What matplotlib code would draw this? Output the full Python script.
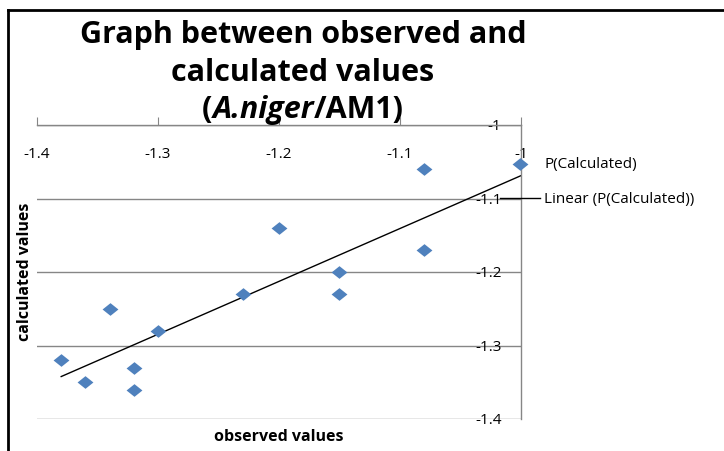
import numpy as np
import matplotlib
matplotlib.use("Agg")
import matplotlib.pyplot as plt
from matplotlib.lines import Line2D
from matplotlib.ticker import FuncFormatter

plt.rcParams["font.family"] = ["Open Sans", "DejaVu Sans"]
plt.rcParams["axes.unicode_minus"] = False

# observed vs calculated values
observed = [-1.38, -1.36, -1.34, -1.32, -1.32, -1.30, -1.23, -1.20, -1.15, -1.15, -1.08, -1.08]
calculated = [-1.32, -1.35, -1.25, -1.33, -1.36, -1.28, -1.23, -1.14, -1.20, -1.23, -1.06, -1.17]
x_ticks = [-1.4, -1.3, -1.2, -1.1, -1.0]
y_ticks = [-1.4, -1.3, -1.2, -1.1, -1.0]

W, H = 724, 451
fig = plt.figure(figsize=(W / 100, H / 100), dpi=100)
ax = fig.add_axes([37 / W, 1 - 419 / H, (521 - 37) / W, (419 - 125) / H])

blue = "#4F81BD"
grey = "#868686"
diamond = [(0, 1), (1.25, 0), (0, -1), (-1.25, 0), (0, 1)]

ax.scatter(observed, calculated, marker=diamond, s=130, color=blue, zorder=3,
           linewidths=0, label="P(Calculated)")

# linear trendline, extended to the axis end
k, b = np.polyfit(observed, calculated, 1)
xs = np.array([min(observed), x_ticks[-1]])
ax.plot(xs, k * xs + b, color="black", lw=1, zorder=2, label="Linear (P(Calculated))")

ax.set_xlim(x_ticks[0], x_ticks[-1])
ax.set_ylim(y_ticks[0], y_ticks[-1])
ax.set_xticks(x_ticks)
ax.set_yticks(y_ticks)
fmt = FuncFormatter(lambda v, p: f"{v:g}")
ax.xaxis.set_major_formatter(fmt)
ax.yaxis.set_major_formatter(fmt)

for s in ["left", "bottom"]:
    ax.spines[s].set_visible(False)
for s in ["top", "right"]:
    ax.spines[s].set_color(grey)
    ax.spines[s].set_linewidth(1)

ax.grid(axis="y", color=grey, lw=1)
ax.set_axisbelow(True)

ax.tick_params(axis="x", top=True, bottom=False, labeltop=True, labelbottom=False,
               direction="out", length=6, color=grey, pad=-22, labelsize=11)
ax.tick_params(axis="y", left=False, right=True, labelleft=False, labelright=True,
               length=0, pad=-14, labelsize=11)
for lab in ax.get_yticklabels():
    lab.set_horizontalalignment("right")
for lab in ax.get_xticklabels():
    lab.set_verticalalignment("top")

ax.set_xlabel("observed values", fontsize=11.5, fontweight="bold", labelpad=7.5)
ax.set_ylabel("calculated values", fontsize=11.5, fontweight="bold", labelpad=3)

leg = ax.legend(loc="upper left", bbox_to_anchor=(500 / W, 1 - 157 / H),
                bbox_transform=fig.transFigure, frameon=False, fontsize=11,
                handlelength=2.6, handletextpad=0.3, labelspacing=1.33,
                borderpad=0, borderaxespad=0, scatterpoints=1)

# outer frame (left and top edges)
fig.add_artist(Line2D([8 / W, 8 / W], [0, 1 - 10 / H], color="black", lw=2))
fig.add_artist(Line2D([8 / W, 1], [1 - 10 / H, 1 - 10 / H], color="black", lw=2))

# title
tsize = 22
tkw = dict(fontsize=tsize, fontweight="bold", ha="center", va="center")
fig.text(303 / W, 1 - 35 / H, "Graph between observed and", **tkw)
fig.text(303 / W, 1 - 73 / H, "calculated values", **tkw)

fig.canvas.draw()
r = fig.canvas.get_renderer()
parts = [("(", "normal"), ("A.niger", "italic"), ("/AM1)", "normal")]
texts = []
for s, st in parts:
    t = fig.text(0, 1 - 110 / H, s, fontsize=tsize, fontweight="bold", style=st,
                 ha="left", va="center")
    texts.append(t)
widths = [t.get_window_extent(r).width for t in texts]
x0 = 303 - sum(widths) / 2
for t, w in zip(texts, widths):
    t.set_x(x0 / W)
    x0 += w

fig.savefig("out.png", dpi=100)
